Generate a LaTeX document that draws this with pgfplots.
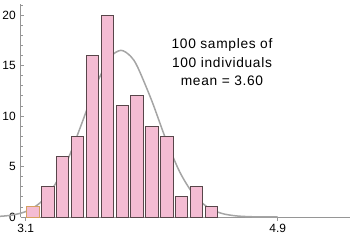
\documentclass[border=0pt]{standalone}
\usepackage{fontspec}
\setmainfont{Liberation Sans}
\usepackage{pgfplots}
\pgfplotsset{compat=1.18}
\definecolor{barfill}{RGB}{244,188,211}
\definecolor{baredge}{RGB}{88,70,74}
\definecolor{firstedge}{RGB}{214,160,96}
\definecolor{curvegray}{RGB}{165,165,165}
\definecolor{axisgray}{RGB}{150,150,150}
\begin{document}
\begin{tikzpicture}
\path[use as bounding box] (0,0) rectangle (352bp,240bp);
\begin{axis}[
  at={(20.7bp,23bp)}, anchor=south west,
  scale only axis, width=329.3bp, height=213bp,
  xmin=3.0643, xmax=5.4164, ymin=0, ymax=21.09,
  axis x line*=bottom, axis y line*=left,
  axis line style={axisgray, line width=0.9bp},
  clip=false,
  tick align=inside,
  major tick length=3.2bp, minor tick length=2bp,
  every tick/.style={axisgray, line width=0.8bp},
  xtick={3.1,4.9}, xticklabels={3.1,4.9},
  xtick style={yshift=-3.6bp},
  ytick={0,5,10,15,20}, minor ytick={1,2,3,4,6,7,8,9,11,12,13,14,16,17,18,19,21},
  /pgf/number format/assume math mode=true,
  ticklabel style={font=\fontsize{12}{13}\selectfont, text=black},
  xticklabel style={yshift=-4bp},
  yticklabel style={xshift=-1.5bp},
]
\addplot[smooth, curvegray, line width=1.5bp] coordinates {
(2.91,0.061) (3.0,0.183) (3.1,0.540) (3.2,1.371) (3.3,3.003) (3.4,5.67)
(3.5,9.24) (3.6,12.98) (3.7,15.74) (3.78,16.5) (3.85,15.91) (3.9,14.83)
(4.0,11.53) (4.1,7.74) (4.2,4.47) (4.3,2.23) (4.4,0.962) (4.5,0.357)
(4.6,0.114) (4.7,0.031) (4.8,0.008) (4.9,0.0)
};
\addplot[ybar, bar width=0.088, fill=barfill, draw=baredge, line width=0.9bp] coordinates {
(3.258,3) (3.364,6) (3.470,8) (3.577,16) (3.683,20) (3.789,11)
(3.895,12) (4.002,9) (4.108,8) (4.214,2) (4.321,3) (4.427,1)
};
\addplot[ybar, bar width=0.088, fill=barfill, draw=firstedge, line width=0.9bp] coordinates {
(3.151,1)
};
\end{axis}
\begin{scope}[font=\fontsize{13.8}{19}\selectfont]
\node[anchor=base, inner sep=0] at (222bp,191.7bp) {\addfontfeatures{LetterSpace=5}100 samples of};
\node[anchor=base, inner sep=0] at (222bp,172.7bp) {\addfontfeatures{LetterSpace=5}100 individuals};
\node[anchor=base, inner sep=0] at (222bp,154bp) {\addfontfeatures{LetterSpace=5}mean = 3.60};
\end{scope}
\end{tikzpicture}
\end{document}
